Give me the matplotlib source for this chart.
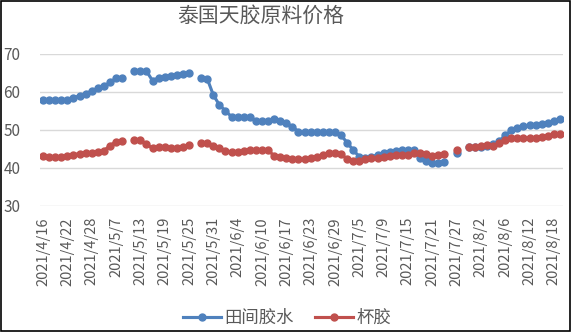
import numpy as np
import matplotlib
matplotlib.use("Agg")
import matplotlib.pyplot as plt
from matplotlib.patches import Rectangle

plt.rcParams['font.family'] = ['Noto Sans CJK SC', 'DejaVu Sans']

nan = np.nan

# trading days (2021), one category each
dates = ['4/16', '4/19', '4/20', '4/21', '4/22', '4/23', '4/26', '4/27', '4/28', '4/29',
         '4/30', '5/6', '5/7', '5/10', '5/11', '5/12', '5/13', '5/14', '5/17', '5/18',
         '5/19', '5/20', '5/21', '5/24', '5/25', '5/26', '5/27', '5/28', '5/31', '6/1',
         '6/2', '6/3', '6/4', '6/7', '6/8', '6/9', '6/10', '6/11', '6/14', '6/16',
         '6/17', '6/18', '6/21', '6/22', '6/23', '6/24', '6/25', '6/28', '6/29', '6/30',
         '7/1', '7/2', '7/5', '7/6', '7/7', '7/8', '7/9', '7/12', '7/13', '7/14',
         '7/15', '7/16', '7/19', '7/20', '7/21', '7/22', '7/23', '7/26', '7/27', '7/28',
         '7/29', '7/30', '8/2', '8/3', '8/4', '8/5', '8/6', '8/9', '8/10', '8/11',
         '8/12', '8/13', '8/16', '8/17', '8/18', '8/19']
dates = ['2021/' + d for d in dates]

field_latex = [57.8, 57.8, 57.8, 57.8, 58.0, 58.5, 59.0, 59.6, 60.2, 61.0,
               61.5, 62.5, 63.6, 63.8, nan, 65.6, 65.6, 65.5, 63.0, 63.7,
               64.0, 64.3, 64.5, 64.7, 65.0, nan, 63.6, 63.5, 59.2, 56.6,
               55.0, 53.5, 53.5, 53.5, 53.5, 52.3, 52.3, 52.3, 52.8, 52.5,
               51.9, 50.8, 49.6, 49.6, 49.6, 49.6, 49.6, 49.6, 49.6, 48.6,
               46.7, 44.7, 43.0, 42.6, 42.9, 43.5, 43.9, 44.3, 44.6, 44.8,
               44.8, 44.8, 42.6, 41.8, 41.2, 41.2, 41.6, nan, 43.9, nan,
               45.4, 45.6, 45.6, 45.8, 46.2, 47.0, 48.6, 49.9, 50.4, 51.0,
               51.2, 51.3, 51.6, 51.9, 52.3, 52.9]

cup_lump = [43.2, 43.0, 42.9, 42.9, 43.1, 43.5, 43.8, 43.9, 43.9, 44.1,
            44.5, 45.9, 46.9, 47.0, nan, 47.3, 47.3, 46.3, 45.2, 45.4,
            45.5, 45.2, 45.3, 45.5, 46.0, nan, 46.5, 46.7, 45.8, 45.2,
            44.6, 44.1, 44.1, 44.5, 44.8, 44.8, 44.8, 44.7, 43.2, 42.8,
            42.6, 42.4, 42.4, 42.4, 42.6, 42.8, 43.5, 44.0, 44.0, 43.6,
            42.4, 41.9, 41.9, 42.3, 42.6, 42.7, 43.0, 43.2, 43.4, 43.4,
            43.5, 44.0, 44.0, 43.6, 43.1, 43.3, 43.6, nan, 44.7, nan,
            45.4, 45.6, 45.9, 46.0, 45.8, 46.5, 47.5, 47.8, 47.8, 47.8,
            47.8, 47.9, 48.2, 48.5, 48.9, 49.0]

x = np.arange(len(dates))

fig = plt.figure(figsize=(5.72, 3.32), dpi=100)
ax = fig.add_axes([40 / 572, 1 - 206 / 332, 523 / 572, 152 / 332])

ax.plot(x, field_latex, color='#4F81BD', lw=2.25, marker='o', ms=5, label='田间胶水')
ax.plot(x, cup_lump, color='#C0504D', lw=2.25, marker='o', ms=5, label='杯胶')

ax.set_xlim(-0.5, len(dates) - 0.5)
ax.set_ylim(30, 70)
ax.set_yticks([30, 40, 50, 60, 70])
ax.set_xticks(x[::4])
ax.set_xticklabels(dates[::4], rotation=90)
ax.tick_params(axis='x', length=0, pad=8, labelsize=10.5, labelcolor='#595959')
ax.tick_params(axis='y', length=0, pad=14, labelsize=11, labelcolor='#595959')
ax.grid(axis='y', color='#D9D9D9', lw=1)
ax.set_axisbelow(True)
for s in ax.spines.values():
    s.set_visible(False)

fig.text(0.456, 0.952, '泰国天胶原料价格', ha='center', va='center', fontsize=15, color='#595959')
fig.legend(loc='center', bbox_to_anchor=(0.502, 0.042), ncol=2, frameon=False,
           fontsize=12.5, labelcolor='#595959', handlelength=2.2, columnspacing=1.2,
           handletextpad=0.2)

fig.patches.append(Rectangle((0.001, 0.002), 0.996, 0.995, transform=fig.transFigure,
                             fill=False, edgecolor='black', lw=1.2))

fig.savefig('out.png', dpi=100)
